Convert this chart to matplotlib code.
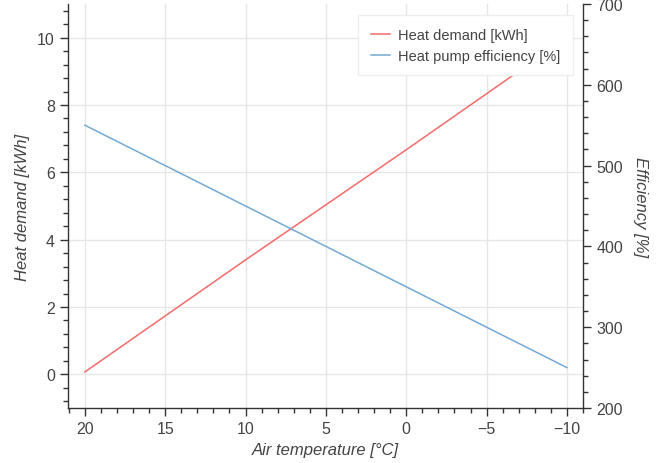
import matplotlib.pyplot as plt
from matplotlib.ticker import MultipleLocator

# air temperature [degC] and the two series
air_temp = [20, 10, 0, -10]
heat_demand = [0.07, 3.4, 6.67, 10.0]
efficiency = [550, 450, 350, 250]

red = '#f26b6b'
blue = '#74a9d2'
txt = '#444444'

plt.rcParams['font.family'] = ['Liberation Sans', 'DejaVu Sans']

fig = plt.figure(figsize=(6.72, 4.64), dpi=100)
ax = fig.add_axes([68 / 672, 1 - 409 / 464, (583 - 68) / 672, (409 - 5) / 464])
ax2 = ax.twinx()

l1, = ax.plot(air_temp, heat_demand, color=red, lw=1.1, label='Heat demand [kWh]')
l2, = ax2.plot(air_temp, efficiency, color=blue, lw=1.1, label='Heat pump efficiency [%]')

ax.set_xlim(21.05, -11.0)
ax.set_ylim(-1, 11)
ax2.set_ylim(200, 700)

ax.xaxis.set_major_locator(MultipleLocator(5))
ax.xaxis.set_minor_locator(MultipleLocator(1))
ax.yaxis.set_major_locator(MultipleLocator(2))
ax.yaxis.set_minor_locator(MultipleLocator(0.4))
ax2.yaxis.set_major_locator(MultipleLocator(100))
ax2.yaxis.set_minor_locator(MultipleLocator(20))

ax.grid(True, color='#e6e6e6', lw=1)
ax.set_axisbelow(True)

for a in (ax, ax2):
    a.spines['top'].set_visible(False)
    for s in a.spines.values():
        s.set_color('#333333')
        s.set_linewidth(1)
    a.tick_params(which='major', direction='out', length=6, width=1, color='#333333',
                  labelcolor=txt, labelsize=11.5)
    a.tick_params(which='minor', direction='out', length=3.5, width=1, color='#333333')
ax.spines['right'].set_visible(False)
ax2.spines['left'].set_visible(False)
ax2.spines['bottom'].set_visible(False)

ax.set_xlabel('Air temperature [°C]', style='italic', color=txt, fontsize=12, labelpad=4)
ax.set_ylabel('Heat demand [kWh]', style='italic', color=txt, fontsize=12, labelpad=5)
ax2.set_ylabel('Efficiency [%]', style='italic', color=txt, fontsize=12, rotation=-90,
               labelpad=18)

leg = ax2.legend(handles=[l1, l2], loc='upper right', bbox_to_anchor=(0.995, 0.99),
                 fontsize=10.5, frameon=True, fancybox=False, handlelength=1.3,
                 handletextpad=0.6, borderpad=0.85, labelspacing=0.5)
leg.get_frame().set_edgecolor('#eeeeee')
leg.get_frame().set_alpha(1)
for t in leg.get_texts():
    t.set_color(txt)

fig.savefig('out.png', dpi=100)
